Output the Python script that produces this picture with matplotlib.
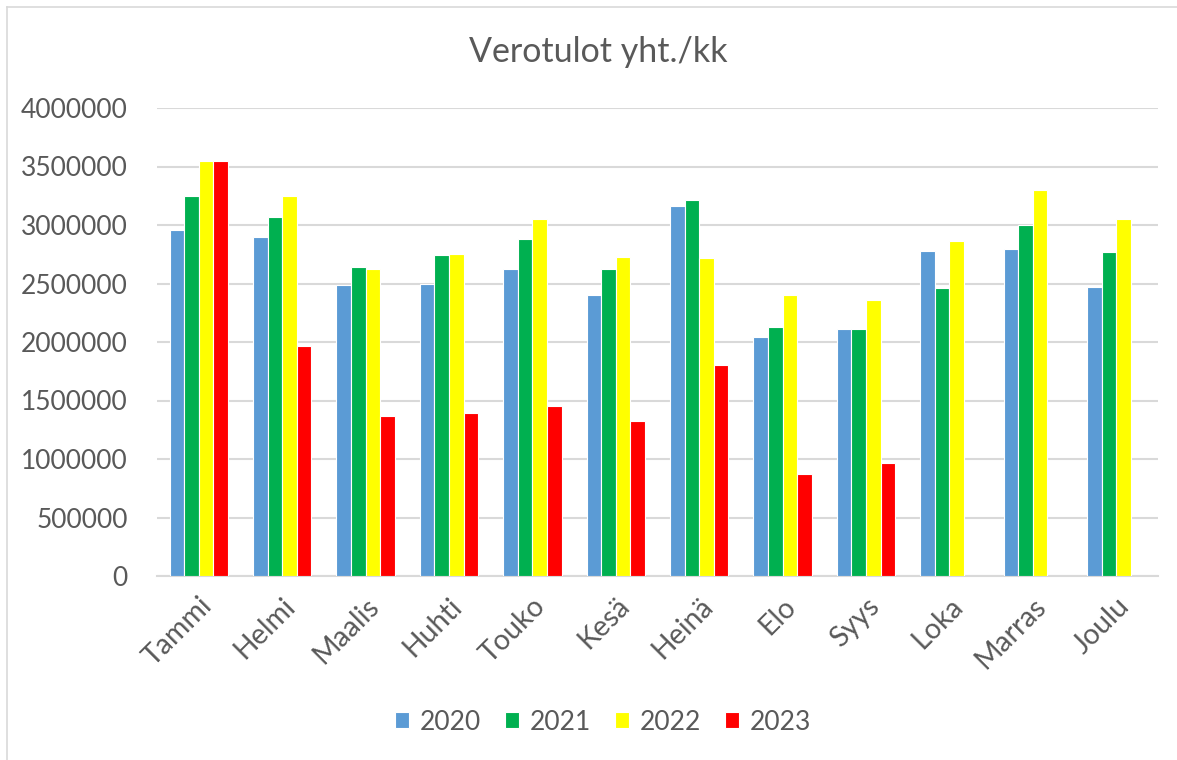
import numpy as np
import matplotlib
matplotlib.use("Agg")
import matplotlib.pyplot as plt
from matplotlib.lines import Line2D

months = ["Tammi", "Helmi", "Maalis", "Huhti", "Touko", "Kesä", "Heinä",
          "Elo", "Syys", "Loka", "Marras", "Joulu"]
years = ["2020", "2021", "2022", "2023"]
v2020 = [2960000, 2900000, 2490000, 2500000, 2625000, 2400000, 3160000,
         2045000, 2110000, 2780000, 2795000, 2470000]
v2021 = [3245000, 3065000, 2640000, 2745000, 2880000, 2625000, 3215000,
         2125000, 2115000, 2465000, 3000000, 2770000]
v2022 = [3545000, 3250000, 2620000, 2755000, 3055000, 2730000, 2720000,
         2400000, 2360000, 2860000, 3295000, 3050000]
v2023 = [3550000, 1965000, 1365000, 1395000, 1455000, 1325000, 1800000,
         875000, 965000, np.nan, np.nan, np.nan]
colors = ["#5B9BD5", "#00B050", "#FFFF00", "#FF0000"]
yticks = [0, 500000, 1000000, 1500000, 2000000, 2500000, 3000000, 3500000, 4000000]

plt.rcParams['font.family'] = ['Lato', 'DejaVu Sans']
txt = "#595959"

fig = plt.figure(figsize=(11.77, 7.6), dpi=100)
ax = fig.add_axes([157/1177, 1 - 576/760, (1158-157)/1177, (576-108)/760])

x = np.arange(len(months))
slot = 0.175
series = [v2020, v2021, v2022, v2023]
for i, (vals, c, lab) in enumerate(zip(series, colors, years)):
    ax.bar(x + (i - 1.5) * slot, vals, width=slot, color=c, label=lab,
           edgecolor="white", linewidth=0.8, zorder=3)

ax.set_xlim(-0.5, len(months) - 0.5)
ax.set_ylim(0, 4000000)
ax.set_yticks(yticks)
ax.set_yticklabels([str(t) for t in yticks])
ax.set_xticks(x)
ax.set_xticklabels(months, rotation=45, ha="right", va="top", rotation_mode="anchor")
ax.tick_params(axis="both", length=0, colors=txt)
ax.tick_params(axis="y", pad=21, labelsize=19)
ax.tick_params(axis="x", pad=12, labelsize=20.5)
ax.grid(axis="y", color="#D9D9D9", linewidth=1.5, zorder=0)
for s in ["top", "right", "left"]:
    ax.spines[s].set_visible(False)
ax.spines["bottom"].set_color("#D9D9D9")
ax.spines["bottom"].set_linewidth(1.5)

fig.text(598/1177, 1 - 52/760, "Verotulot yht./kk", ha="center", va="center",
         fontsize=24.5, color=txt)

leg = fig.legend(loc="center", bbox_to_anchor=(603/1177, 1 - 722/760), ncol=4,
                 frameon=False, fontsize=19, handlelength=0.55, handleheight=0.55,
                 handletextpad=0.4, columnspacing=0.9, labelcolor=txt)

fig.add_artist(Line2D([7/1177, 1], [1 - 7/760, 1 - 7/760], color="#D9D9D9", lw=1.2))
fig.add_artist(Line2D([7/1177, 7/1177], [0, 1 - 7/760], color="#D9D9D9", lw=1.2))

fig.savefig("out.png", dpi=100)
